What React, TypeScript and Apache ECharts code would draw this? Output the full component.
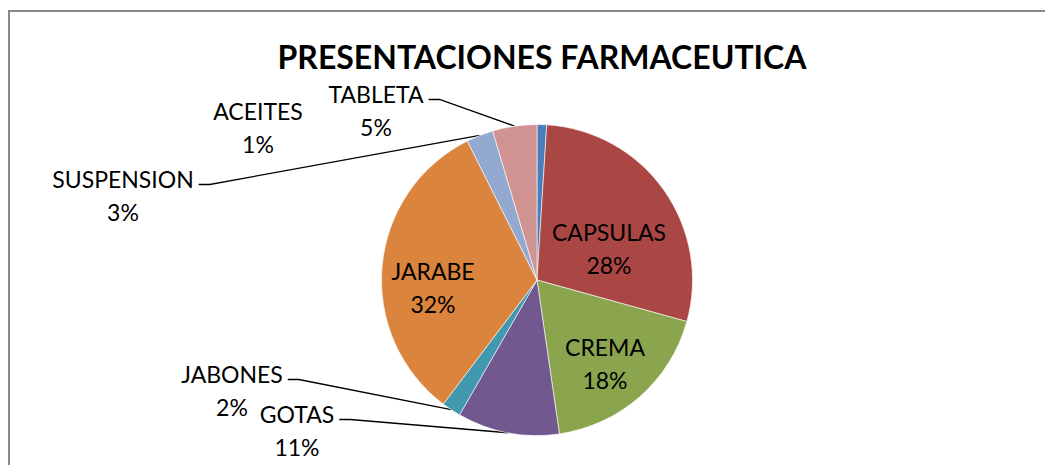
import React, { useEffect, useRef } from "react";
import * as echarts from "echarts";

const categories = ["ACEITES", "CAPSULAS", "CREMA", "GOTAS", "JABONES", "JARABE", "SUSPENSION", "TABLETA"];
const values = [1.0, 28.3, 18.4, 10.6, 2.0, 32.3, 2.8, 4.6];
const colors = ["#4A7EBB", "#AA4643", "#8BA54F", "#71588F", "#4198AF", "#DB843D", "#93A9CF", "#D19392"];
const titleText = "PRESENTACIONES FARMACEUTICA";

// label layout (block centres) and which labels carry a leader line
const labelPos = [[258, 127], [609, 248], [605, 363], [297, 430], [232, 390], [433, 287], [123, 195], [376, 110]];
const insideLabel = [false, true, true, false, false, true, false, false];
const withLine = [false, false, false, true, true, false, true, true];

const FONT = "Lato";
const LABEL_SIZE = 23;
const LINE_H = 33;
const CX = 537;
const CY = 280;
const R = 155.5;

export default function App() {
  const ref = useRef<HTMLDivElement>(null);
  useEffect(() => {
    if (!ref.current) return;
    const chart = echarts.init(ref.current, undefined, { renderer: "svg" });
    const data = categories.map((name, i) => ({
      name,
      value: values[i],
      itemStyle: { color: colors[i] },
      label: { position: insideLabel[i] ? "inside" : "outside" },
      labelLine: { show: withLine[i] },
    }));
    chart.setOption({
      animation: false,
      backgroundColor: "#ffffff",
      title: {
        text: titleText,
        left: 537,
        top: 35,
        textAlign: "center",
        textStyle: { fontFamily: FONT, fontWeight: "bold", fontSize: 32, color: "#000" },
      },
      graphic: [
        {
          type: "rect",
          shape: { x: 9, y: 11, width: 1100, height: 520 },
          style: { fill: "none", stroke: "#8a8a8a", lineWidth: 2 },
          silent: true,
        },
      ],
      series: [
        {
          type: "pie",
          center: [CX, CY],
          radius: R,
          startAngle: 90,
          clockwise: true,
          avoidLabelOverlap: false,
          data,
          itemStyle: { borderColor: "#ffffff", borderWidth: 0.6 },
          label: {
            show: true,
            fontFamily: FONT,
            fontSize: LABEL_SIZE,
            lineHeight: LINE_H,
            color: "#000",
            align: "center",
            formatter: (p: any) => `${p.name}\n${Math.round(p.percent)}%`,
          },
          labelLine: {
            show: true,
            length: 10,
            length2: 10,
            lineStyle: { color: "#000", width: 1.3 },
          },
          labelLayout: (params: any) => {
            const i = params.dataIndex;
            const [lx, ly] = labelPos[i];
            const out: any = { x: lx, y: ly, align: "center", verticalAlign: "middle" };
            if (withLine[i]) {
              const w = params.labelRect.width;
              const h = params.labelRect.height;
              const lineY = ly - h / 2 + LINE_H / 2 + 6;
              const right = lx + w / 2;
              let anchor = params.labelLinePoints && params.labelLinePoints[0];
              if (!anchor) {
                let before = 0;
                for (let k = 0; k < i; k++) before += values[k];
                const total = values.reduce((a, b) => a + b, 0);
                const mid = ((before + values[i] / 2) / total) * Math.PI * 2;
                anchor = [CX + R * Math.sin(mid), CY - R * Math.cos(mid)];
              }
              out.labelLinePoints = [anchor, [right + 16, lineY], [right + 5, lineY]];
            }
            return out;
          },
        },
      ],
    });
    return () => chart.dispose();
  }, []);
  return (
    <div
      ref={ref}
      style={{ position: "fixed", left: 0, top: 0, width: 1045, height: 465 }}
    />
  );
}
